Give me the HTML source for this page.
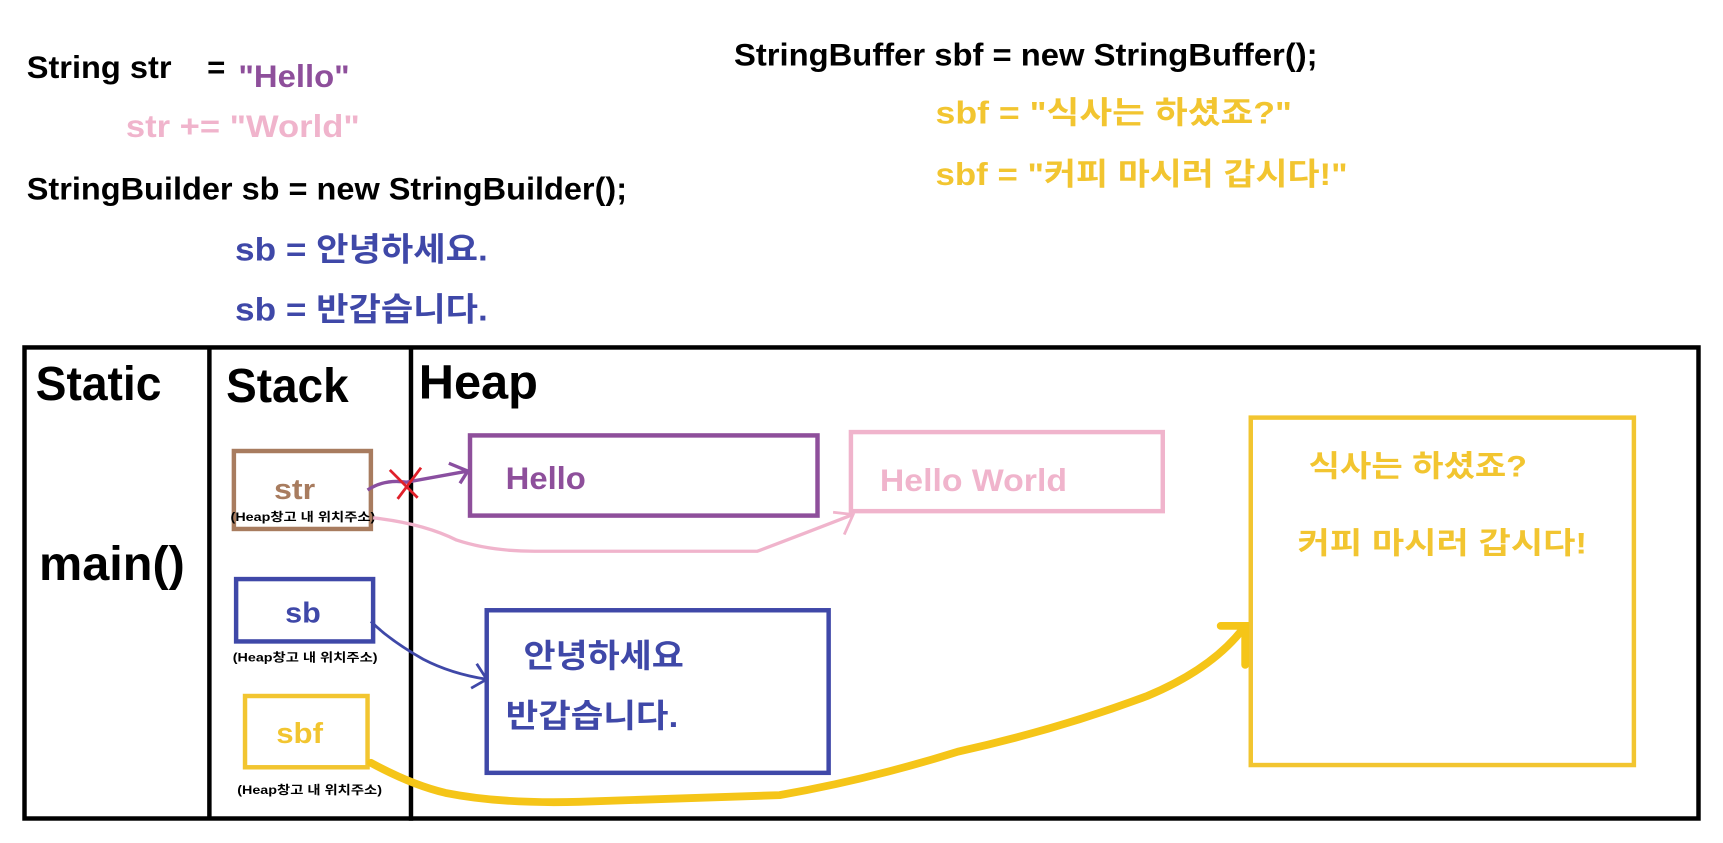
<!DOCTYPE html>
<html><head><meta charset="utf-8"><style>
html,body{margin:0;padding:0;background:#fff;}
svg{display:block;}
text{font-family:"Liberation Sans","Noto Sans CJK KR",sans-serif;font-weight:bold;}
</style></head><body>
<svg width="1723" height="843" viewBox="0 0 1547 757" preserveAspectRatio="none" xmlns="http://www.w3.org/2000/svg">
<rect width="1547" height="757" fill="#fff"/>
<text x="24" y="70" font-size="28" fill="#000" textLength="130" lengthAdjust="spacingAndGlyphs">String str</text>
<text x="186" y="70" font-size="28" fill="#000">=</text>
<text x="214" y="78" font-size="28" fill="#8e4f9b" textLength="100" lengthAdjust="spacingAndGlyphs">"Hello"</text>
<text x="113" y="123" font-size="28" fill="#f0b4cc" textLength="210" lengthAdjust="spacingAndGlyphs">str += "World"</text>
<text x="24" y="179" font-size="28" fill="#000" textLength="539" lengthAdjust="spacingAndGlyphs">StringBuilder sb = new StringBuilder();</text>
<text x="211" y="234" font-size="29" fill="#3f48a8" textLength="227" lengthAdjust="spacingAndGlyphs">sb = 안녕하세요.</text>
<text x="211" y="288" font-size="29" fill="#3f48a8" textLength="227" lengthAdjust="spacingAndGlyphs">sb = 반갑습니다.</text>
<text x="659" y="59" font-size="28" fill="#000" textLength="524" lengthAdjust="spacingAndGlyphs">StringBuffer sbf = new StringBuffer();</text>
<text x="840" y="111" font-size="28" fill="#f2c530" textLength="320" lengthAdjust="spacingAndGlyphs">sbf = "식사는 하셨죠?"</text>
<text x="840" y="166" font-size="28" fill="#f2c530" textLength="370" lengthAdjust="spacingAndGlyphs">sbf = "커피 마시러 갑시다!"</text>

<rect x="22" y="312" width="1503" height="423" fill="none" stroke="#000" stroke-width="4"/>
<line x1="188" y1="312" x2="188" y2="735" stroke="#000" stroke-width="4"/>
<line x1="369" y1="312" x2="369" y2="737" stroke="#000" stroke-width="4"/>
<text x="32" y="359" font-size="43" fill="#000" textLength="113" lengthAdjust="spacingAndGlyphs">Static</text>
<text x="203" y="361" font-size="43" fill="#000" textLength="110" lengthAdjust="spacingAndGlyphs">Stack</text>
<text x="376" y="358" font-size="43" fill="#000" textLength="107" lengthAdjust="spacingAndGlyphs">Heap</text>
<text x="35" y="521" font-size="43" fill="#000" textLength="131" lengthAdjust="spacingAndGlyphs">main()</text>

<rect x="210" y="405" width="123" height="70" fill="none" stroke="#a87c5f" stroke-width="4"/>
<text x="246" y="448" font-size="26" fill="#a87c5f" textLength="37" lengthAdjust="spacingAndGlyphs">str</text>
<text x="207" y="468" font-size="10.5" fill="#000" textLength="130" lengthAdjust="spacingAndGlyphs">(Heap창고 내 위치주소)</text>

<rect x="212" y="520" width="123" height="56" fill="none" stroke="#3f48a8" stroke-width="4"/>
<text x="256" y="559" font-size="26" fill="#3f48a8" textLength="32" lengthAdjust="spacingAndGlyphs">sb</text>
<text x="209" y="594" font-size="10.5" fill="#000" textLength="130" lengthAdjust="spacingAndGlyphs">(Heap창고 내 위치주소)</text>

<rect x="220" y="625" width="110" height="64" fill="none" stroke="#f2c530" stroke-width="4"/>
<text x="248" y="667" font-size="26" fill="#f2c530" textLength="42" lengthAdjust="spacingAndGlyphs">sbf</text>
<text x="213" y="713" font-size="10.5" fill="#000" textLength="130" lengthAdjust="spacingAndGlyphs">(Heap창고 내 위치주소)</text>

<rect x="422" y="391" width="312" height="72" fill="none" stroke="#8e4f9b" stroke-width="4"/>
<text x="454" y="439" font-size="28" fill="#8e4f9b" textLength="72" lengthAdjust="spacingAndGlyphs">Hello</text>
<rect x="764" y="388" width="280" height="71" fill="none" stroke="#f0b4cc" stroke-width="4"/>
<text x="790" y="441" font-size="28" fill="#f0b4cc" textLength="168" lengthAdjust="spacingAndGlyphs">Hello World</text>
<rect x="437" y="548" width="307" height="146" fill="none" stroke="#3f48a8" stroke-width="4"/>
<text x="470" y="599" font-size="29" fill="#3f48a8" textLength="144" lengthAdjust="spacingAndGlyphs">안녕하세요</text>
<text x="454" y="653" font-size="29" fill="#3f48a8" textLength="155" lengthAdjust="spacingAndGlyphs">반갑습니다.</text>
<rect x="1123" y="375" width="344" height="312" fill="none" stroke="#f2c530" stroke-width="4"/>
<text x="1175" y="428" font-size="27" fill="#f2c530" textLength="196" lengthAdjust="spacingAndGlyphs">식사는 하셨죠?</text>
<text x="1165" y="497" font-size="27" fill="#f2c530" textLength="260" lengthAdjust="spacingAndGlyphs">커피 마시러 갑시다!</text>

<path d="M330,440 Q345,430 365,433 L420,423" fill="none" stroke="#8a4fa0" stroke-width="3"/>
<path d="M403,416 L420,423 L413,434" fill="none" stroke="#8a4fa0" stroke-width="3"/>
<path d="M350,422 L375,447 M378,420 L357,448" stroke="#e0202a" stroke-width="2.5" fill="none"/>
<path d="M335,465 Q380,470 410,485 Q440,495 480,495 L680,495 Q720,480 766,462" fill="none" stroke="#f0b4cc" stroke-width="3"/>
<path d="M748,460 L766,462 L758,480" fill="none" stroke="#f0b4cc" stroke-width="2.5"/>
<path d="M333,558 Q350,575 380,592 Q405,605 437,610" fill="none" stroke="#3f48a8" stroke-width="2.5"/>
<path d="M428,596 L437,610 L423,618" fill="none" stroke="#3f48a8" stroke-width="2.5"/>
<path d="M333,685 Q370,705 400,712 Q450,722 520,720 L700,714 Q780,700 860,675 Q950,655 1030,625 Q1090,600 1118,562" fill="none" stroke="#f5c518" stroke-width="7" stroke-linecap="round"/>
<path d="M1096,562 L1118,562 L1118,597" fill="none" stroke="#f5c518" stroke-width="7" stroke-linecap="round"/>
</svg>
</body></html>
